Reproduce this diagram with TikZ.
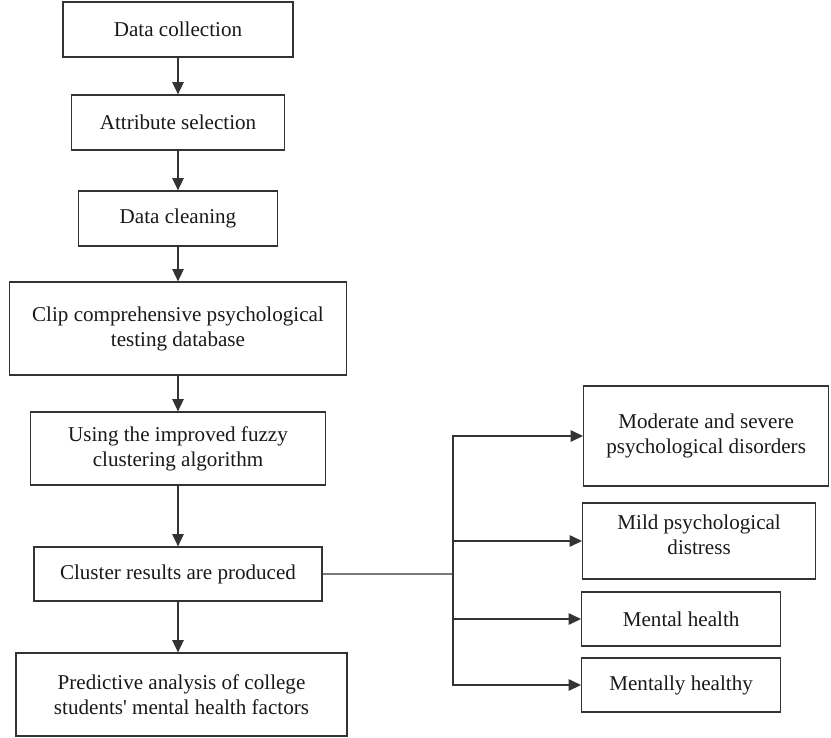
\documentclass[tikz,border=0pt]{standalone}
\usepackage{fontspec}
\setmainfont{Liberation Serif}
\usepackage{tikz}
\usetikzlibrary{shapes,arrows.meta,positioning}
\tikzstyle{block} = [draw=black!80, line width=0.7pt, rectangle, align=center,
    text=black!90, font=\fontsize{12}{14.2}\selectfont, inner sep=2pt]
\tikzstyle{result} = [block, anchor=west]
\tikzstyle{line} = [draw=black!80, line width=0.7pt]

\begin{document}
\begin{tikzpicture}[auto, node distance=1.9cm, >={Triangle[length=7pt,width=6.5pt]}]
\useasboundingbox (0,0) rectangle (16.62,-14.74);

\node [block, minimum width=4.6cm, minimum height=1.1cm] (collect) at (3.56,-0.59) {Data collection};
\node [block, below of=collect, node distance=1.86cm, minimum width=4.26cm, minimum height=1.1cm] (attrib) {Attribute selection};
\node [block, below of=attrib, node distance=1.92cm, minimum width=3.98cm, minimum height=1.1cm] (clean) {Data cleaning};
\node [block, below of=clean, node distance=2.2cm, minimum width=6.74cm, minimum height=1.86cm] (clip) {Clip comprehensive psychological\\testing database};
\node [block, below of=clip, node distance=2.4cm, minimum width=5.9cm, minimum height=1.46cm] (fuzzy) {Using the improved fuzzy\\clustering algorithm};
\node [block, below of=fuzzy, node distance=2.51cm, minimum width=5.76cm, minimum height=1.08cm] (cluster) {Cluster results are produced};
\node [block, below of=cluster, node distance=2.41cm, minimum width=6.62cm, minimum height=1.66cm, xshift=0.07cm] (predict) {Predictive analysis of college\\students\textquotesingle{} mental health factors};

% cluster categories
\node [result, minimum width=4.9cm, minimum height=2cm] (severe) at (11.66,-8.72) {Moderate and severe\\psychological disorders};
\node [result, minimum width=4.66cm, minimum height=1.52cm, text depth=0.25cm] (mild) at (11.64,-10.82) {Mild psychological\\distress};
\node [result, minimum width=3.98cm, minimum height=1.08cm] (mental) at (11.62,-12.38) {Mental health};
\node [result, minimum width=3.98cm, minimum height=1.08cm] (healthy) at (11.62,-13.7) {Mentally healthy};
\coordinate (hub) at (9.06,-11.48);

\draw [line,->] (collect) -- (attrib);
\draw [line,->] (attrib) -- (clean);
\draw [line,->] (clean) -- (clip);
\draw [line,->] (clip) -- (fuzzy);
\draw [line,->] (fuzzy) -- (cluster);
\draw [line,->] (cluster.south) -- (cluster.south |- predict.north);
\draw [line] (cluster) -- (hub);
\foreach \r in {severe,mild,mental,healthy}
  \draw [line,->] (hub) |- (\r.west);

\end{tikzpicture}
\end{document}
